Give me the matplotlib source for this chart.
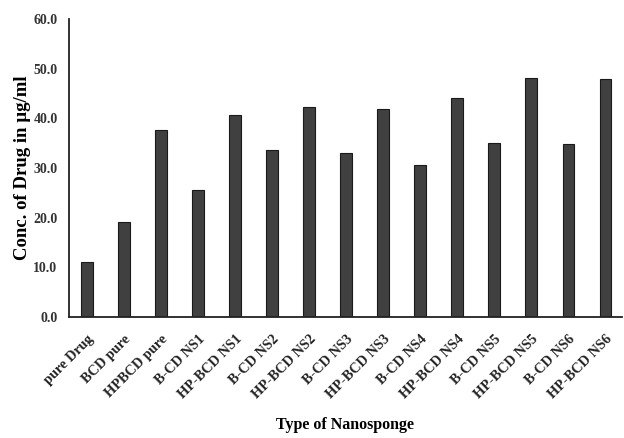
import numpy as np
import matplotlib
matplotlib.use("Agg")
import matplotlib.pyplot as plt

plt.rcParams['font.family'] = ['Liberation Serif', 'DejaVu Serif']
plt.rcParams['font.weight'] = 'bold'

categories = ['pure Drug', 'BCD pure', 'HPBCD pure',
              'B-CD NS1', 'HP-BCD NS1', 'B-CD NS2', 'HP-BCD NS2',
              'B-CD NS3', 'HP-BCD NS3', 'B-CD NS4', 'HP-BCD NS4',
              'B-CD NS5', 'HP-BCD NS5', 'B-CD NS6', 'HP-BCD NS6']
conc = [11.1, 19.1, 37.6, 25.6, 40.7, 33.6, 42.2,
        33.1, 41.9, 30.6, 44.1, 35.1, 48.1, 34.9, 47.9]
yticks = [0, 10, 20, 30, 40, 50, 60]

fig = plt.figure(figsize=(6.24, 4.38), dpi=100)
ax = fig.add_axes([0.110, 0.276, 0.887, 0.681])

x = np.arange(len(categories))
ax.bar(x, conc, width=0.32, color='#404040', edgecolor='#1a1a1a', linewidth=0.8)

ax.set_xlim(-0.5, len(categories) - 0.55)
ax.set_ylim(0, 60)
ax.set_yticks(yticks)
ax.set_yticklabels(['%.1f' % v for v in yticks], fontsize=10, fontweight='bold',
                   color='#333333')
ax.set_xticks(x)
ax.set_xticklabels(categories, rotation=45, ha='right', rotation_mode='anchor',
                   fontsize=10.3, fontweight='bold', color='#222222')
ax.tick_params(axis='x', length=0, pad=11)
ax.tick_params(axis='y', length=0, pad=8)

for s in ['top', 'right']:
    ax.spines[s].set_visible(False)
ax.spines['left'].set_linewidth(1.3)
ax.spines['bottom'].set_linewidth(1.3)
ax.spines['left'].set_color('#222222')
ax.spines['bottom'].set_color('#222222')

ax.set_ylabel('Conc. of Drug in µg/ml', fontsize=13.5, fontweight='bold', labelpad=1.5)
ax.set_xlabel('Type of Nanosponge', fontsize=11.5, fontweight='bold')
ax.xaxis.set_label_coords(0.5, -0.335)

fig.savefig('out.png', dpi=100)
